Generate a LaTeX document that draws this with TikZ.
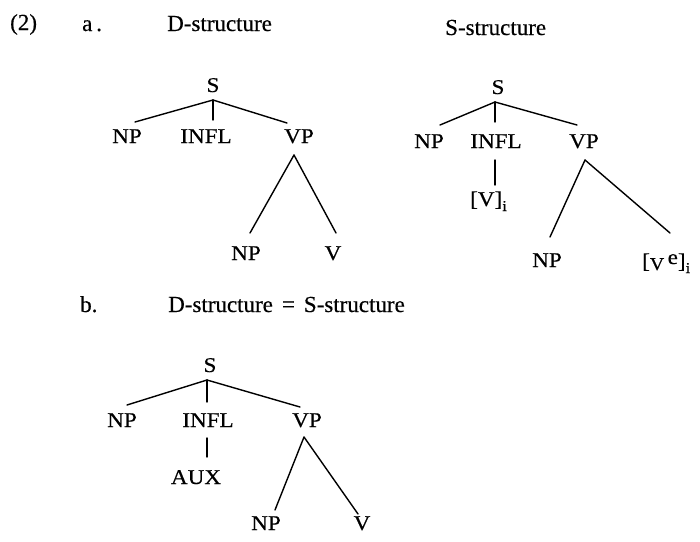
\documentclass[tikz,border=0pt]{standalone}
\usepackage{fontspec}
\setmainfont{Liberation Serif}[FakeBold=0.4]
\newfontfamily\treefont{Liberation Serif}[FakeStretch=1.1,FakeBold=0.5]
\usetikzlibrary{calc}
\newcommand{\lowi}{\raisebox{-5pt}{\fontsize{15}{17}\selectfont i}}
\begin{document}
\begin{tikzpicture}[x=1pt,y=-1pt,
  head/.style={font=\fontsize{23}{26}\selectfont, inner sep=0pt, anchor=base west},
  lab/.style={font=\treefont\fontsize{21}{24}\selectfont, inner sep=0pt, text height=14pt, text depth=0pt},
  edge/.style={line width=1.4pt, line cap=round}]
\fill[white] (0,0) rectangle (700,541);
\path[use as bounding box] (0,0) rectangle (700,541);

% headings
\node[head] (num) at (10,30) {(2)};
\node[head] (ha) at (82,31) {a\,.};
\node[head] (hD) at (167,31) {D-structure};
\node[head] (hS) at (445,35) {S-structure};
\node[head] (hb) at (80,312) {b.};
\node[head] (hDS) at (168,312) {D-structure\hspace{9pt}=\hspace{9pt}S-structure};

% tree a: D-structure
\node[lab] (S1) at (213,85) {S};
\node[lab] (NP1) at (127,136) {NP};
\node[lab] (INFL1) at (206,136) {INFL};
\node[lab] (VP1) at (299,136) {VP};
\node[lab] (NP2) at (246,253) {NP};
\node[lab] (V1) at (333,253) {V};
\draw[edge] ($(S1)+(0,15)$) -- ($(NP1)+(8,-14)$);
\draw[edge] ($(S1)+(0,15)$) -- ($(INFL1)+(7,-16)$);
\draw[edge] ($(S1)+(0,15)$) -- ($(VP1)+(-12,-13)$);
\draw[edge] ($(VP1)+(-5,19)$) -- ($(NP2)+(4,-20)$);
\draw[edge] ($(VP1)+(-5,19)$) -- ($(V1)+(3,-20)$);

% tree a': S-structure
\node[lab] (S2) at (498,87) {S};
\node[lab] (NP3) at (429,141) {NP};
\node[lab] (INFL2) at (496,141) {INFL};
\node[lab] (VP2) at (584,141) {VP};
\node[lab, anchor=west] (Vi) at (470,199) {[V]\lowi};
\node[lab] (NP4) at (547,260) {NP};
\node[lab, anchor=west] (Ve) at (642,261) {[\raisebox{-2pt}{\fontsize{18}{20}\selectfont V}\,\raisebox{4pt}{e}]\lowi};
\draw[edge] ($(S2)+(-3,15)$) -- ($(NP3)+(11,-16)$);
\draw[edge] ($(S2)+(-3,15)$) -- ($(INFL2)+(-1,-19)$);
\draw[edge] ($(S2)+(-3,15)$) -- ($(VP2)+(-7,-16)$);
\draw[edge] ($(INFL2)+(-1,19)$) -- ($(Vi.west)+(25,-14)$);
\draw[edge] ($(VP2)+(1,19)$) -- ($(NP4)+(3,-23)$);
\draw[edge] ($(VP2)+(1,19)$) -- ($(Ve.west)+(28,-28)$);

% tree b
\node[lab] (S3) at (210,365) {S};
\node[lab] (NP5) at (122,420) {NP};
\node[lab] (INFL3) at (208,420) {INFL};
\node[lab] (VP3) at (307,420) {VP};
\node[lab] (AUX) at (196,477) {AUX};
\node[lab] (NP6) at (266,523) {NP};
\node[lab] (V3) at (362,523) {V};
\draw[edge] ($(S3)+(-3,15)$) -- ($(NP5)+(5,-15)$);
\draw[edge] ($(S3)+(-3,15)$) -- ($(INFL3)+(-1,-18)$);
\draw[edge] ($(S3)+(-3,15)$) -- ($(VP3)+(-7,-13)$);
\draw[edge] ($(INFL3)+(-1,18)$) -- ($(AUX)+(11,-20)$);
\draw[edge] ($(VP3)+(-3,17)$) -- ($(NP6)+(9,-13)$);
\draw[edge] ($(VP3)+(-3,17)$) -- ($(V3)+(-4,-9)$);
\end{tikzpicture}
\end{document}
